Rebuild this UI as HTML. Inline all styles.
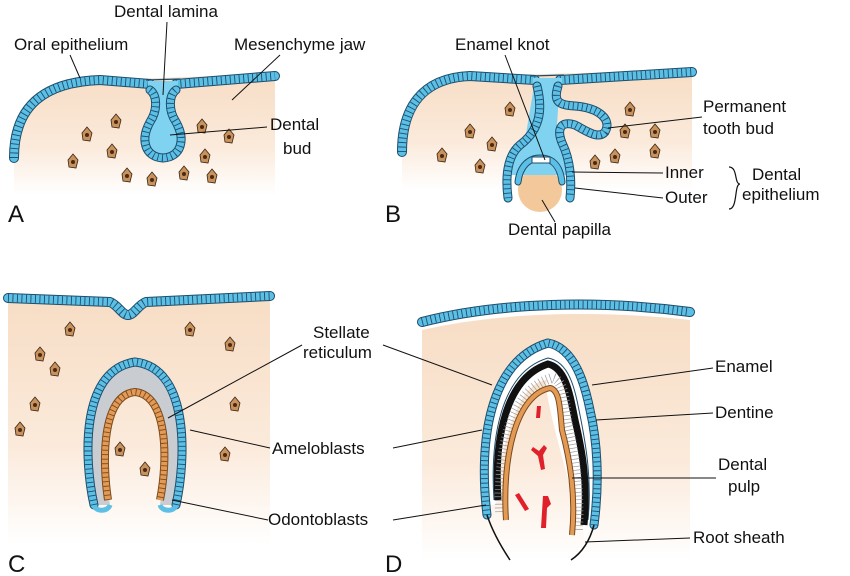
<!DOCTYPE html>
<html><head><meta charset="utf-8"><style>
body{margin:0;background:#fff;}
svg{display:block;font-family:"Liberation Sans",sans-serif;}
text{font-size:17px;fill:#111;}
.big{font-size:24px;}
.ld{stroke:#111;stroke-width:1;fill:none;}
.eo{fill:none;stroke:#1e4d6b;stroke-linecap:round;stroke-linejoin:round;}
.ei{fill:none;stroke:#5cc0e6;stroke-linecap:round;stroke-linejoin:round;}
.ed{fill:none;stroke:#1e4d6b;stroke-dasharray:0.9 3.6;}
.cell{fill:#c8925e;stroke:#3a2410;stroke-width:0.8;}
.nuc{fill:#4a2a12;}
</style></head><body>
<svg width="850" height="576" viewBox="0 0 850 576">
<defs>
<linearGradient id="mg" x1="0" y1="0" x2="0" y2="1">
<stop offset="0" stop-color="#f7ddc5"/><stop offset="0.6" stop-color="#fbeadb"/><stop offset="1" stop-color="#ffffff"/>
</linearGradient>
<g id="c"><path class="cell" d="M0,-8 L5,-2 L3,6 L-4,5 L-5,-2 Z"/><circle class="nuc" cx="0" cy="0" r="2"/></g>
</defs>

<!-- Panel A -->
<path d="M14,158 C14,105 45,82 100,80 L275,74 L275,195 L14,195 Z" fill="url(#mg)"/>
<g>
<path d="M150,84 L176,84 L172,115 C190,125 188,158 163,162 C138,158 136,125 154,115 Z" fill="#7fd2f0"/>
<path class="eo" stroke-width="10" d="M14,158 C14,105 45,82 100,80 L150,84 M176,84 L275,76"/>
<path class="ei" stroke-width="8" d="M14,158 C14,105 45,82 100,80 L150,84 M176,84 L275,76"/>
<path class="ed" stroke-width="8" d="M14,158 C14,105 45,82 100,80 L150,84 M176,84 L275,76"/>
<rect x="148" y="81" width="30" height="9" fill="#7fd2f0"/>
<path class="eo" stroke-width="9" d="M150,90 C157,95 158,110 150,122 C140,140 145,157 163,158 C181,157 186,140 176,122 C168,110 169,95 176,90"/>
<path class="ei" stroke-width="7" d="M150,90 C157,95 158,110 150,122 C140,140 145,157 163,158 C181,157 186,140 176,122 C168,110 169,95 176,90"/>
<path class="ed" stroke-width="7" d="M150,90 C157,95 158,110 150,122 C140,140 145,157 163,158 C181,157 186,140 176,122 C168,110 169,95 176,90"/>
<path d="M146,80 L180,79" stroke="#1e4d6b" stroke-width="1.2"/>
</g>
<use href="#c" x="116" y="122"/><use href="#c" x="87" y="135"/><use href="#c" x="112" y="152"/>
<use href="#c" x="73" y="162"/><use href="#c" x="127" y="176"/><use href="#c" x="152" y="180"/>
<use href="#c" x="184" y="174"/><use href="#c" x="212" y="177"/><use href="#c" x="205" y="157"/>
<use href="#c" x="202" y="127"/><use href="#c" x="229" y="137"/>

<!-- Panel B -->
<path d="M402,152 C402,110 420,78 470,76 L692,70 L692,190 L402,190 Z" fill="url(#mg)"/>
<circle cx="540" cy="190" r="22" fill="#f3c99c"/>
<g>
<path d="M535,80 L560,80 L556,140 L575,175 L505,175 L525,140 Z" fill="#7fd2f0"/>
<path class="eo" stroke-width="10" d="M402,152 C402,110 420,78 470,76 L535,80 M560,80 L692,72"/>
<path class="ei" stroke-width="8" d="M402,152 C402,110 420,78 470,76 L535,80 M560,80 L692,72"/>
<path class="ed" stroke-width="8" d="M402,152 C402,110 420,78 470,76 L535,80 M560,80 L692,72"/>
<rect x="533" y="78" width="29" height="10" fill="#7fd2f0"/>
<path d="M531,76 L564,75" stroke="#1e4d6b" stroke-width="1.2"/>
<path class="eo" stroke-width="9" d="M537,86 C543,110 540,130 520,145 C508,155 505,175 508,198 M558,86 C554,100 556,105 575,106 C600,108 612,120 605,132 C598,140 585,130 575,125 C560,120 556,130 563,145 C570,160 572,180 570,198"/>
<path class="ei" stroke-width="7" d="M537,86 C543,110 540,130 520,145 C508,155 505,175 508,198 M558,86 C554,100 556,105 575,106 C600,108 612,120 605,132 C598,140 585,130 575,125 C560,120 556,130 563,145 C570,160 572,180 570,198"/>
<path class="ed" stroke-width="7" d="M537,86 C543,110 540,130 520,145 C508,155 505,175 508,198 M558,86 C554,100 556,105 575,106 C600,108 612,120 605,132 C598,140 585,130 575,125 C560,120 556,130 563,145 C570,160 572,180 570,198"/>
<path class="eo" stroke-width="7" d="M518,182 C520,165 530,158 540,158 C552,158 560,165 562,182"/>
<path class="ei" stroke-width="5" d="M518,182 C520,165 530,158 540,158 C552,158 560,165 562,182"/>
<path d="M532,157 L550,157 L550,163 L532,163 Z" fill="#fff" stroke="#1e4d6b" stroke-width="1"/>
</g>
<use href="#c" x="510" y="110"/><use href="#c" x="470" y="132"/><use href="#c" x="492" y="145"/>
<use href="#c" x="442" y="156"/><use href="#c" x="480" y="167"/><use href="#c" x="630" y="110"/>
<use href="#c" x="655" y="132"/><use href="#c" x="655" y="152"/><use href="#c" x="615" y="157"/>
<use href="#c" x="595" y="163"/><use href="#c" x="625" y="132"/>

<!-- Panel C -->
<path d="M8,298 L110,302 C118,305 122,315 128,315 C134,315 138,305 146,302 L270,296 L270,545 L8,545 Z" fill="url(#mg)"/>
<path class="eo" stroke-width="10" d="M8,298 L110,302 C118,305 122,315 128,315 C134,315 138,305 146,302 L270,296"/>
<path class="ei" stroke-width="8" d="M8,298 L110,302 C118,305 122,315 128,315 C134,315 138,305 146,302 L270,296"/>
<path class="ed" stroke-width="8" d="M8,298 L110,302 C118,305 122,315 128,315 C134,315 138,305 146,302 L270,296"/>
<path d="M94,505 C84,460 80,370 135,362 C190,368 186,460 176,505 L160,505 C166,460 170,395 135,392 C102,395 104,460 110,505 Z" fill="#c9cdd2"/>
<path class="eo" stroke-width="9" d="M94,505 C84,460 80,370 135,362 C190,368 186,460 176,505"/>
<path class="ei" stroke-width="7" d="M94,505 C84,460 80,370 135,362 C190,368 186,460 176,505"/>
<path class="ed" stroke-width="7" d="M94,505 C84,460 80,370 135,362 C190,368 186,460 176,505"/>
<path d="M94,505 C95,512 108,512 110,505 M160,505 C162,512 175,512 176,505" stroke="#5cc0e6" stroke-width="5" fill="none"/>
<path d="M108,500 C102,460 102,395 135,392 C168,395 168,460 160,500" fill="none" stroke="#7a4a1e" stroke-width="8"/>
<path d="M108,500 C102,460 102,395 135,392 C168,395 168,460 160,500" fill="none" stroke="#e39a55" stroke-width="6"/>
<path d="M108,500 C102,460 102,395 135,392 C168,395 168,460 160,500" fill="none" stroke="#7a4a1e" stroke-width="6" stroke-dasharray="0.9 3.6"/>
<use href="#c" x="70" y="330"/><use href="#c" x="40" y="355"/><use href="#c" x="190" y="330"/>
<use href="#c" x="230" y="345"/><use href="#c" x="35" y="405"/><use href="#c" x="55" y="370"/>
<use href="#c" x="20" y="430"/><use href="#c" x="235" y="405"/><use href="#c" x="120" y="450"/>
<use href="#c" x="145" y="470"/><use href="#c" x="225" y="455"/>

<!-- Panel D -->
<path d="M422,330 C500,312 600,310 690,320 L690,560 L422,560 Z" fill="url(#mg)"/>
<path class="eo" stroke-width="10" d="M422,322 C500,302 600,300 690,312"/>
<path class="ei" stroke-width="8" d="M422,322 C500,302 600,300 690,312"/>
<path class="ed" stroke-width="8" d="M422,322 C500,302 600,300 690,312"/>
<path d="M488,505 C480,440 490,360 548,343 C570,345 585,380 590,410 C595,440 600,480 595,515 L585,540 C560,450 540,380 548,380 C520,380 500,440 496,505 Z" fill="#fff"/>
<path class="eo" stroke-width="9" d="M487,515 C478,440 490,360 548,343 C575,348 585,385 590,410 C597,440 600,480 594,525"/>
<path class="ei" stroke-width="7" d="M487,515 C478,440 490,360 548,343 C575,348 585,385 590,410 C597,440 600,480 594,525"/>
<path class="ed" stroke-width="7" d="M487,515 C478,440 490,360 548,343 C575,348 585,385 590,410 C597,440 600,480 594,525"/>
<path d="M494,500 C490,440 500,372 548,358 C570,362 575,390 580,415 C586,445 592,480 588,520" fill="none" stroke="#1e4d6b" stroke-width="1"/>
<path d="M498,500 C494,440 505,378 548,364 C566,368 570,395 575,420 C582,450 588,480 584,525" fill="none" stroke="#111" stroke-width="7"/>
<path d="M500,512 C498,450 510,390 552,378 C565,380 565,405 568,425 C575,455 580,490 578,530" fill="none" stroke="#999" stroke-width="10" stroke-dasharray="0.7 3"/>
<path d="M506,520 C502,460 515,395 550,388 C560,390 560,410 562,430 C570,460 576,495 572,535" fill="none" stroke="#7a4a1e" stroke-width="6"/>
<path d="M506,520 C502,460 515,395 550,388 C560,390 560,410 562,430 C570,460 576,495 572,535" fill="none" stroke="#e39a55" stroke-width="4"/>
<path d="M487,515 C492,530 500,545 510,560 M594,525 C590,540 583,552 571,560" fill="none" stroke="#111" stroke-width="1.5"/>
<g fill="#e0202a">
<path d="M537,406 l4,0 l-1,12 l-4,0 Z"/>
<path d="M533,447 l6,4 l5,-6 l3,3 l-4,7 l2,14 l-4,1 l-3,-14 l-7,-6 Z"/>
<path d="M515,495 l4,-2 l10,16 l-4,2 Z"/>
<path d="M543,496 l5,0 l3,8 l-4,4 l-1,20 l-5,0 Z"/>
</g>

<!-- Labels -->
<text x="114" y="17">Dental lamina</text>
<text x="14" y="50">Oral epithelium</text>
<text x="234" y="50">Mesenchyme jaw</text>
<text x="270" y="130">Dental</text><text x="283" y="154">bud</text>
<text class="big" x="8" y="222">A</text>
<text x="455" y="50">Enamel knot</text>
<text x="703" y="112">Permanent</text><text x="703" y="134">tooth bud</text>
<text x="665" y="178">Inner</text><text x="665" y="203">Outer</text>
<text x="752" y="180">Dental</text><text x="742" y="200">epithelium</text>
<path d="M729,167 C738,167 734,184 740,184 C734,184 738,209 729,209" fill="none" stroke="#111" stroke-width="1.2"/>
<text x="508" y="235">Dental papilla</text>
<text class="big" x="385" y="222">B</text>
<text x="313" y="338">Stellate</text><text x="303" y="358">reticulum</text>
<text x="272" y="454">Ameloblasts</text>
<text x="268" y="525">Odontoblasts</text>
<text class="big" x="8" y="572">C</text>
<text class="big" x="385" y="572">D</text>
<text x="715" y="372">Enamel</text>
<text x="715" y="418">Dentine</text>
<text x="718" y="470">Dental</text><text x="728" y="492">pulp</text>
<text x="693" y="543">Root sheath</text>
<g class="ld">
<path d="M167,22 L163,95"/><path d="M70,55 L80,78"/><path d="M280,55 L232,100"/><path d="M267,127 L170,135"/>
<path d="M505,55 L545,160"/><path d="M702,117 L608,128"/><path d="M663,173 L572,172"/><path d="M663,198 L575,188"/>
<path d="M555,222 L542,200"/>
<path d="M302,345 L168,418"/><path d="M383,345 L492,385"/>
<path d="M270,448 L190,430"/><path d="M393,448 L482,430"/>
<path d="M268,520 L172,500"/><path d="M393,520 L486,505"/>
<path d="M713,368 L592,385"/><path d="M713,413 L596,420"/><path d="M716,478 L572,478"/><path d="M690,538 L585,542"/>
</g>
</svg>
</body></html>
